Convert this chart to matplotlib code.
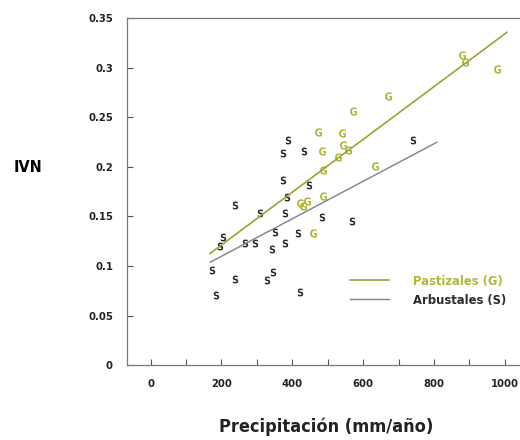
import matplotlib.pyplot as plt
import numpy as np

# Arbustales (S)
s_precip = [742, 389, 375, 432, 375, 447, 238, 384, 309, 379, 483, 568, 351, 417,
            379, 342, 266, 295, 205, 196, 172, 238, 346, 328, 186, 422]
s_ivn = [0.227, 0.227, 0.214, 0.216, 0.187, 0.182, 0.162, 0.170, 0.153, 0.153, 0.149,
         0.145, 0.134, 0.133, 0.123, 0.117, 0.123, 0.123, 0.129, 0.120, 0.096, 0.087,
         0.094, 0.086, 0.071, 0.074]

# Pastizales (G)
g_precip = [878, 888, 977, 671, 572, 473, 539, 544, 558, 530, 483, 488, 634, 486,
            422, 441, 459, 430]
g_ivn = [0.313, 0.306, 0.299, 0.271, 0.256, 0.235, 0.234, 0.222, 0.217, 0.210, 0.216,
         0.197, 0.201, 0.171, 0.164, 0.166, 0.133, 0.160]

# rectas de regresion: pendiente, ordenada, rango de x
g_fit = (0.000266, 0.068)
g_rango = [168, 1006]
s_fit = (0.000189, 0.072)
s_rango = [168, 808]

plt.rcParams['font.family'] = ['DejaVu Sans']
plt.rcParams['font.stretch'] = 'condensed'
plt.rcParams['font.weight'] = 'bold'

col_g = '#b3b63a'
col_g_linea = '#9ca236'
col_s = '#2b2b2b'
col_s_linea = '#80808c'

fig = plt.figure(figsize=(5.2, 4.4), dpi=100)
ax = fig.add_axes([0.244, 0.17, 0.756, 0.789])

xg = np.array(g_rango)
xs = np.array(s_rango)
ax.plot(xg, g_fit[0] * xg + g_fit[1], color=col_g_linea, lw=1.2, label='Pastizales (G)')
ax.plot(xs, s_fit[0] * xs + s_fit[1], color=col_s_linea, lw=1.0, label='Arbustales (S)')

ax.scatter(s_precip, s_ivn, marker=r'$\mathbf{S}$', s=32, color=col_s, lw=0)
ax.scatter(g_precip, g_ivn, marker=r'$\mathbf{G}$', s=36, color=col_g, lw=0)

ax.set_xlim(-67, 1043)
ax.set_ylim(0, 0.35)
ax.set_xticks([0, 200, 400, 600, 800, 1000])
ax.set_xticks(range(100, 1000, 200), minor=True)
ax.set_yticks([0, 0.05, 0.1, 0.15, 0.2, 0.25, 0.3, 0.35])
ax.set_yticklabels(['0', '0.05', '0.1', '0.15', '0.2', '0.25', '0.3', '0.35'])
ax.tick_params(axis='both', which='both', direction='in', length=4, width=0.8,
               labelsize=8, colors='#555555', labelcolor='#222222')
ax.tick_params(axis='x', pad=10)
ax.tick_params(axis='y', pad=10)

ax.spines['right'].set_visible(False)
for lado in ['left', 'bottom', 'top']:
    ax.spines[lado].set_color('#777777')
    ax.spines[lado].set_linewidth(0.9)

fig.text(0.026, 0.62, 'IVN', fontsize=11.5, fontweight='bold', va='center', ha='left')
fig.text(0.627, 0.008, 'Precipitación (mm/año)', fontsize=13, fontweight='bold',
         ha='center', va='bottom', color='#222222')

leg = ax.legend(loc='lower right', bbox_to_anchor=(0.995, 0.135), frameon=False,
                fontsize=9.3, handlelength=3.0, handletextpad=1.9, labelspacing=0.45)
leg.get_texts()[0].set_color(col_g)
leg.get_texts()[1].set_color(col_s)

fig.savefig('out.png', dpi=100)
